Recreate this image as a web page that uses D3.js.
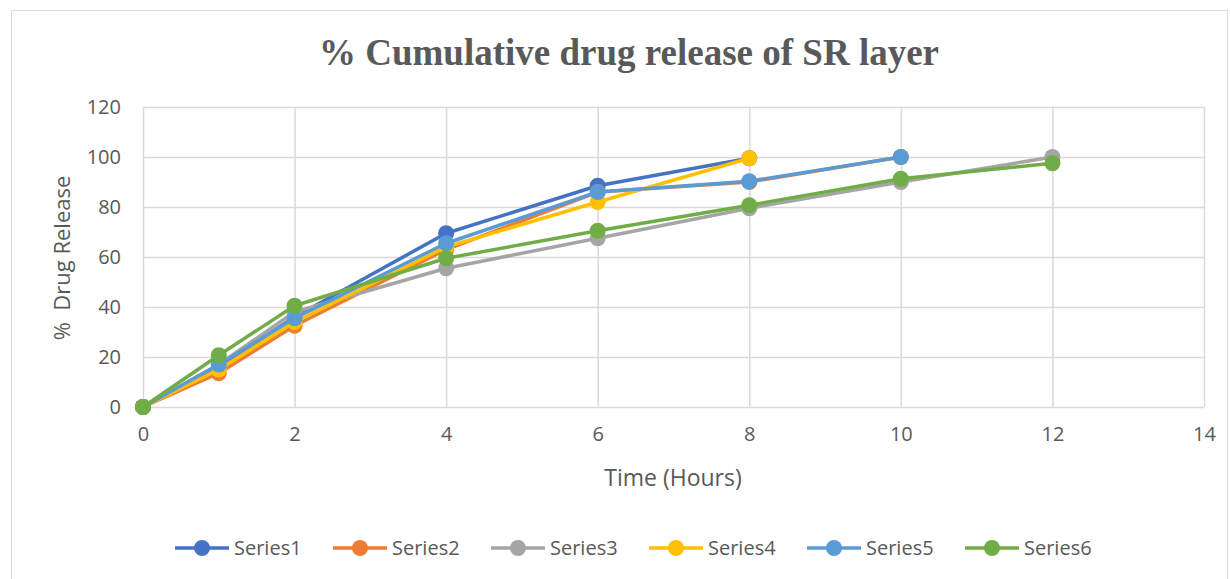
<!DOCTYPE html>
<html>
<head>
<meta charset="utf-8">
<script src="https://cdnjs.cloudflare.com/ajax/libs/d3/7.8.5/d3.min.js"></script>
<style>
  body { margin: 0; background: #fff; }
  svg text { fill: #595959; }
</style>
</head>
<body>
<div id="chart"></div>
<script>
var hours = [0, 1, 2, 4, 6, 8, 10, 12];
var seriesNames = ["Series1", "Series2", "Series3", "Series4", "Series5", "Series6"];
var seriesColors = ["#4472c4", "#ed7d31", "#a5a5a5", "#ffc000", "#5b9bd5", "#70ad47"];
var series1 = [0, 16, 36, 69.5, 88.5, 99.5];
var series2 = [0, 13.5, 32.5, 63, 86, 90, 100];
var series3 = [0, 17, 38, 55.5, 67.5, 79.5, 90, 100];
var series4 = [0, 15, 34, 64, 82, 99.5];
var series5 = [0, 17, 35.5, 65.5, 86, 90.3, 100];
var series6 = [0, 20.7, 40.5, 59.5, 70.5, 80.7, 91.3, 97.5];
var xTicks = [0, 2, 4, 6, 8, 10, 12, 14];
var yTicks = [0, 20, 40, 60, 80, 100, 120];

var width = 1230, height = 579;
var font = "'Open Sans', sans-serif";

var svg = d3.select("#chart").append("svg")
  .attr("width", width)
  .attr("height", height);

// chart frame
svg.append("rect")
  .attr("x", 11.5).attr("y", 10.5)
  .attr("width", 1216).attr("height", 600)
  .attr("fill", "#fff")
  .attr("stroke", "#d9d9d9");

var x = d3.scaleLinear().domain([0, 14]).range([143, 1204]);
var y = d3.scaleLinear().domain([0, 120]).range([407, 107]);

// gridlines
svg.append("g").selectAll("line.h")
  .data(yTicks).enter().append("line")
  .attr("x1", x(0)).attr("x2", x(14))
  .attr("y1", function (d) { return y(d) + 0.5; })
  .attr("y2", function (d) { return y(d) + 0.5; })
  .attr("stroke", "#d9d9d9").attr("stroke-width", 1.5);
svg.append("g").selectAll("line.v")
  .data(xTicks).enter().append("line")
  .attr("y1", y(0)).attr("y2", y(120))
  .attr("x1", function (d) { return x(d) + 0.5; })
  .attr("x2", function (d) { return x(d) + 0.5; })
  .attr("stroke", "#d9d9d9").attr("stroke-width", 1.5);

// tick labels
var xAxis = svg.append("g")
  .attr("transform", "translate(0," + y(0) + ")")
  .call(d3.axisBottom(x).tickValues(xTicks).tickSize(0).tickPadding(20));
var yAxis = svg.append("g")
  .attr("transform", "translate(" + x(0) + ",0)")
  .call(d3.axisLeft(y).tickValues(yTicks).tickSize(0).tickPadding(22));
[xAxis, yAxis].forEach(function (a) {
  a.select(".domain").remove();
  a.selectAll("text")
    .style("font-family", font)
    .style("font-size", "20px")
    .attr("fill", "#595959");
});

// title
svg.append("text")
  .attr("x", 629).attr("y", 65)
  .attr("text-anchor", "middle")
  .style("font-family", "'Liberation Serif', 'Times New Roman', serif")
  .style("font-weight", "bold")
  .style("font-size", "37px")
  .text("% Cumulative drug release of SR layer");

// axis titles
svg.append("text")
  .attr("x", 673).attr("y", 486)
  .attr("text-anchor", "middle")
  .style("font-family", font)
  .style("font-size", "23px")
  .text("Time (Hours)");
svg.append("text")
  .attr("transform", "translate(70,258) rotate(-90)")
  .attr("text-anchor", "middle")
  .style("font-family", font)
  .style("font-size", "22px")
  .style("white-space", "pre")
  .text("%  Drug Release");

// series
var allSeries = [series1, series2, series3, series4, series5, series6];
var line = d3.line()
  .x(function (d) { return x(d.t); })
  .y(function (d) { return y(d.v); });

allSeries.forEach(function (vals, i) {
  var pts = vals.map(function (v, j) { return { t: hours[j], v: v }; });
  var g = svg.append("g");
  g.append("path")
    .datum(pts)
    .attr("d", line)
    .attr("fill", "none")
    .attr("stroke", seriesColors[i])
    .attr("stroke-width", 3.5)
    .attr("stroke-linejoin", "round");
  g.selectAll("circle")
    .data(pts).enter().append("circle")
    .attr("cx", function (d) { return x(d.t); })
    .attr("cy", function (d) { return y(d.v); })
    .attr("r", 8)
    .attr("fill", seriesColors[i]);
});

// legend
var legend = svg.append("g").selectAll("g")
  .data(seriesNames).enter().append("g")
  .attr("transform", function (d, i) { return "translate(" + (175 + i * 158) + ",548)"; });
legend.append("line")
  .attr("x1", 0).attr("x2", 54)
  .attr("stroke", function (d, i) { return seriesColors[i]; })
  .attr("stroke-width", 3.5);
legend.append("circle")
  .attr("cx", 27).attr("r", 8)
  .attr("fill", function (d, i) { return seriesColors[i]; });
legend.append("text")
  .attr("x", 59).attr("y", 7)
  .style("font-family", font)
  .style("font-size", "20px")
  .text(function (d) { return d; });
</script>
</body>
</html>
